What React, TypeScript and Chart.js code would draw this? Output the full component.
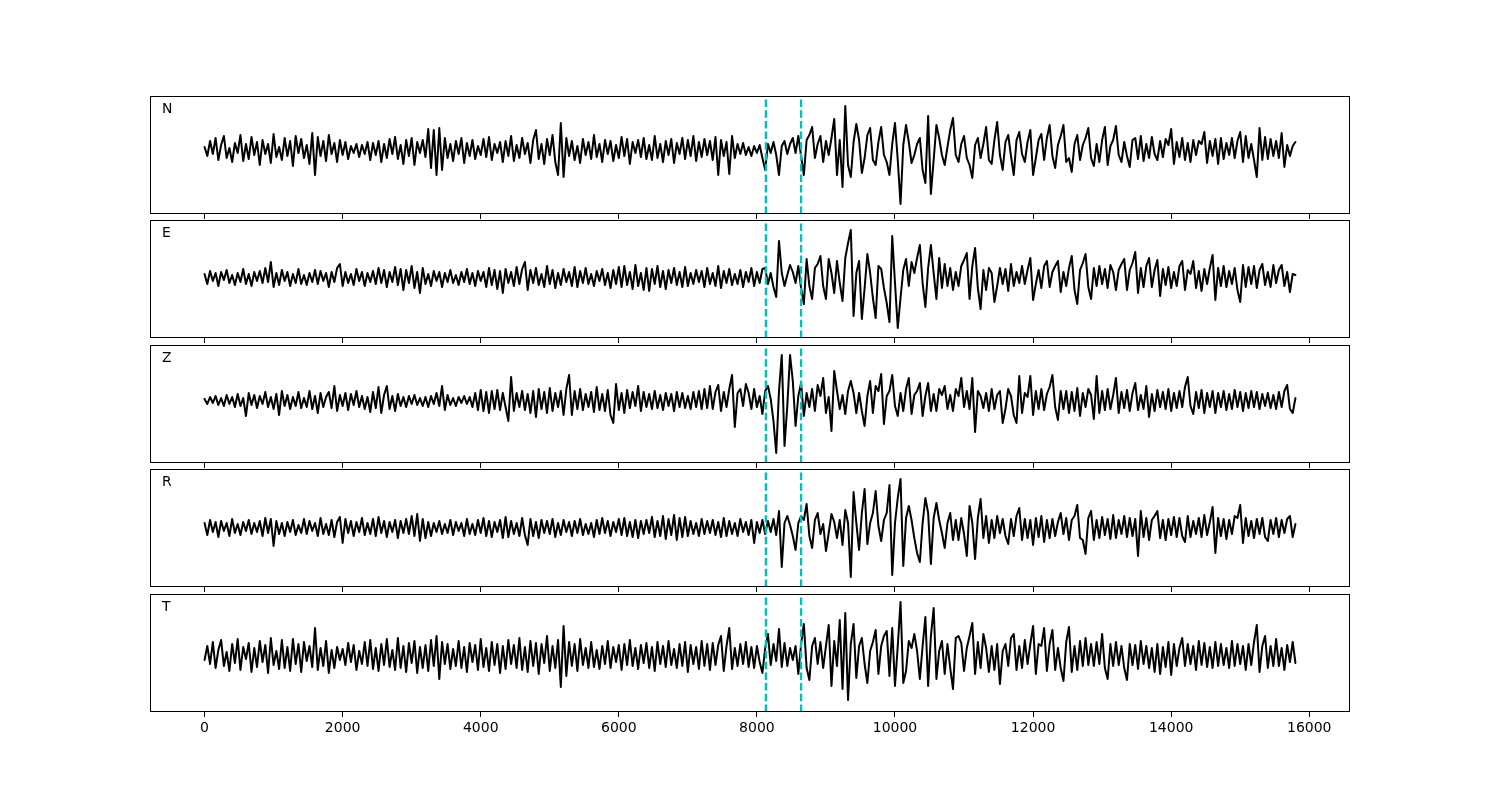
import React, { useEffect, useRef } from "react";
import { Chart, registerables } from "chart.js";

Chart.register(...registerables);

// ---------------- data ----------------
const SAMPLE_STEP = 40; // x units between consecutive samples
const CHANNELS = ["N", "E", "Z", "R", "T"];
const X_TICKS = [0, 2000, 4000, 6000, 8000, 10000, 12000, 14000, 16000];
const X_MIN = -790;
const X_MAX = 16590;
const PICK_TIMES = [8130, 8640];
const Y_MIN = [-64, -60, -62, -59, -56];
const Y_MAX = [54, 58, 56, 59, 62];

const N_TRACE = [
  3, -6, 9, -4, 12, -10, 5, 14, -8, 2,
  -12, 7, -3, 15, -11, 6, -9, 13, -5, 8,
  -15, 10, -4, 6, -13, 16, -7, 3, -10, 12,
  -6, 9, -16, 14, -3, 11, -8, 5, -14, 17,
  -25, 13, -6, 9, -11, 15, -4, 7, -12, 10,
  -5, 8, -9, 4, -3, 6, -7, 5, -4, 8,
  -10, 7, -5, 9, -12, 6, -8, 11, -4, 13,
  -9, 5, -14, 10, -6, 12, -15, 8, -3, 10,
  -7, 21, -18, 20, -25, 22, -20, 12, -8, 6,
  -11, 9, -4, 12, -13, 7, -6, 10, -9, 4,
  -5, 11, -7, 13, -10, 6, -3, 8, -12, 9,
  -6, 14, -11, 5, -8, 12, -4, 7, -13, 10,
  20, -9, 6, -14, 11, -5, 15, -12, -25, 27,
  -27, 12, -6, 9, -10, 4, -13, 11, -5, 8,
  -9, 15, -7, 6, -12, 10, -4, 9, -11, 5,
  -8, 13, -6, 11, -14, 8, -3, 10, -7, 12,
  -9, 5, -10, 14, -8, 6, -12, 9, -5, 11,
  -13, 7, -4, 12, -9, 10, -6, 14, -11, 8,
  -7, 11, -5, 9, -10, 13, -25, 10, -6, 8,
  -24, 14, -8, 6, -4, 7, -5, 3, -6, 4,
  -3, 5, -8, -20, 6, -3, 8, -5, -25, 4,
  9, -4, 6, 12, -3, 14, -6, -25, 10, 15,
  23, -8, 6, 14, -12, 9, -5, 12, 31, -25,
  10, -37, 44, -15, -27, 8, 26, 10, -23, -8,
  15, 22, -10, -15, 8, 23, -5, -12, -25, 6,
  27, -10, -54, 5, 25, 8, -13, -5, 6, 12,
  -20, -33, 34, -44, -10, 25, 12, -5, -15, 3,
  20, 32, -5, -12, 6, 14, -8, -15, -28, 5,
  12, -8, 6, 23, -10, -14, 10, 28, -5, -20,
  8, 15, -6, -25, 10, 18, -4, -12, 8, 20,
  -25, -8, 10, 16, -10, 12, 25, -6, -18, 5,
  14, 25, -12, -8, -22, 6, 15, -10, 5, 12,
  22, -8, -16, 6, -12, 10, 23, -15, 4, 10,
  24, -5, -12, 8, -6, -17, 10, 12, -9, 14,
  -11, 6, -8, 13, -4, -10, 9, -7, 11, 5,
  21, -14, 8, -7, 12, -10, 7, -12, 10, -5,
  9, 6, 18, -13, 9, -6, 11, -14, 12, -9,
  7, -5, 12, -8, 9, 18, -12, 14, -8, 6,
  -10, -27, 22, -10, 13, -9, 11, -6, 9, -8,
  17, -17, 5, -6, 4, 8,
];

const E_TRACE = [
  4, -6, 7, -3, 5, -8, 6, -2, 8, -5,
  3, -7, 5, -4, 9, -6, 4, -8, 6, -3,
  7, -5, 10, -4, 16, -9, 5, -7, 8, -3,
  6, -8, 4, -5, 9, -6, 3, -7, 5, -4,
  8, -6, 7, -3, 5, -9, 6, -4, 10, 14,
  -8, 6, -5, 4, -7, 9, -3, 6, -8, 5,
  -4, 7, -6, 10, -5, 8, -9, 6, -4, 11,
  -7, 9, -12, 8, -5, 12, -10, 6, -15, 10,
  -6, 4, -8, 7, -3, 6, -9, 5, -4, 8,
  -5, 3, -7, 6, -4, 9, -6, 5, -8, 7,
  -3, 6, -9, 10, -7, 8, -11, 7, -15, 9,
  -5, 6, -8, 11, -6, 9, 16, -12, 8, -5,
  10, -7, 4, -9, 12, -6, 8, -10, 5, -7,
  9, -4, 6, -8, 11, -9, 7, -5, 10, -6,
  4, -8, 7, -3, 9, -7, 5, -10, 8, -6,
  11, -9, 12, -7, 6, -11, 13, -8, 5, -12,
  10, -13, 9, -6, 12, -9, 7, -11, 8, -5,
  10, -7, 6, -9, 11, -8, 5, -6, 8, -4,
  7, -9, 10, -6, 5, -8, 12, -10, 7, -5,
  9, -7, 4, -6, 8, -9, 6, -4, 10, -8,
  6, -5, 9, 10, -6, 5, -9, -19, 37, 5,
  -8, 3, 13, 6, -5, 12, -10, -26, 19, -8,
  -21, 10, 14, 22, -8, -21, 19, 5, -15, 17,
  -5, -23, 20, 35, 48, -38, 5, 17, -41, -10,
  24, 5, -20, -40, 12, 9, -10, -25, -44, 42,
  -5, -50, -20, 8, 19, -8, 16, 5, 20, 33,
  -5, -29, 10, 33, 5, -21, 20, -10, 14, -8,
  10, -12, 6, -8, 12, 18, 25, -21, 12, 30,
  -10, -31, 8, -12, 10, 5, -24, -8, 10, -6,
  9, -13, 14, -8, 6, -5, 12, -6, 8, 20,
  -22, -6, 8, -10, 12, 17, -9, 6, 12, 17,
  -14, 6, -8, 10, 22, -12, -26, 8, 15, 24,
  -9, -21, 10, -8, 12, -6, 9, -10, 13, 6,
  -12, 8, 14, 19, -12, 8, 15, 26, -15, 10,
  -9, 12, 20, -9, 8, 18, -18, 9, -7, 11,
  -10, 6, -8, 12, 17, -12, 8, 4, 17, -10,
  7, -13, 9, -6, 10, 23, -22, 10, -8, 12,
  -9, 7, -6, 10, -12, -24, 13, -9, 11, -6,
  12, -10, 8, 14, -7, 6, -9, 13, -5, 8,
  13, -8, 6, -14, 4, 3,
];

const Z_TRACE = [
  2, -3, 4, -2, 5, -4, 3, -5, 6, -3,
  4, -6, 7, -5, 3, -15, 8, -4, 6, -7,
  5, -3, 9, -6, 4, -8, 7, -14, 10, -5,
  6, -8, 4, -5, 9, -7, 3, -6, 10, -8,
  5, -12, 8, -6, 4, 9, -7, 15, -10, 6,
  -5, 8, -9, 7, -4, 10, -6, 5, -8, 4,
  -11, 9, -7, 14, -12, 6, 15, -8, 5, -10,
  7, -5, 4, -6, 5, -3, 6, -4, 3, -5,
  4, -6, 5, -3, 8, -5, 15, -9, 6, -4,
  3, -5, 4, -2, 5, -3, 4, -6, 8, -9,
  11, -10, 9, -12, 10, -8, 11, -9, 8, -6,
  -20, 24, -10, 8, -6, 10, -9, 7, -12, 10,
  -16, 12, -8, 9, -12, 13, -10, 8, -6, 10,
  -14, 12, 26, -14, 10, -8, 12, -9, 7, -6,
  9, -11, 14, -9, 7, -10, 11, -14, -22, 17,
  -9, 8, -12, 11, -7, 9, -5, 15, -10, 9,
  -6, 7, -8, 10, -7, 6, -9, 8, -5, 7,
  -10, 9, -6, 8, -7, 5, -8, 9, -6, 10,
  -8, 12, -7, 15, -8, 9, 16, -10, 9, -6,
  12, 26, -26, 8, 12, -5, 17, 8, -8, 12,
  -6, 5, -13, 10, 15, 2, -20, -52, 10, 46,
  -45, -5, 46, 20, -25, 5, 18, -15, 8, -6,
  12, -10, 16, 5, 23, -12, 4, -30, 30, 10,
  -8, 6, -13, 10, 20, 8, -12, 8, -10, -25,
  5, 20, -12, 15, 10, 27, -23, 5, 10, 26,
  -5, -15, 8, -10, 12, 23, -13, 6, 10, 18,
  -15, 5, 18, -10, 7, -10, 12, 6, 15, -8,
  6, -10, 12, 5, 23, -6, 10, -8, 23, -31,
  10, 5, -7, 8, -10, 12, -8, 6, 10, -22,
  -8, 12, 5, -14, -22, 25, -12, 8, 4, 25,
  -14, 10, -8, 12, -9, 7, 14, 26, -6, -19,
  10, -8, 10, -12, 9, -10, 13, -15, 8, -6,
  12, 6, -18, 25, -12, 10, -9, 12, -8, 6,
  23, -12, 9, -7, 11, -10, 8, 18, -9, 6,
  -8, 15, -16, 7, -10, 11, -6, 9, -8, 12,
  -10, 8, -7, 10, -6, 14, 24, -5, -13, 9,
  -7, 11, -12, 8, -6, 10, -12, 8, -6, 10,
  -9, 7, -8, 11, -6, 9, -10, 8, -7, 10,
  -6, 9, -8, 7, -5, 8, -7, 6, -8, 9,
  -6, 10, 16, -8, -12, 3,
];

const R_TRACE = [
  5, -7, 8, -4, 6, -9, 7, -3, 5, -8,
  9, -5, 4, -7, 6, -3, 8, -6, 5, -4,
  7, -8, 10, -5, 9, -18, 7, -6, 5, -8,
  6, -4, 8, -7, 3, -5, 9, -6, 7, -3,
  5, -8, 10, -6, 4, -7, 8, -9, 6, 11,
  -15, 9, -5, 7, -8, 6, -4, 10, -7, 5,
  -6, 9, -8, 11, -5, 7, -9, 6, -4, 8,
  -10, 7, -5, 9, -6, 12, -8, 14, -13, 9,
  -10, 6, -8, 5, -4, 7, -6, 4, -5, 8,
  -7, 6, -3, 5, -8, 9, -6, 4, -7, 8,
  -5, 10, -8, 7, -9, 6, -4, 8, -10, 11,
  -9, 7, -6, 5, -8, 10, -7, -17, 9, -8,
  6, -10, 8, -5, 7, -6, 9, -9, 5, -7,
  8, -4, 6, -8, 7, -5, 9, -7, 4, -6,
  5, -9, 8, -6, 10, -5, 7, -8, 6, -4,
  9, -7, 10, -8, 6, -9, 8, -10, 7, -6,
  8, -5, 11, -9, 7, -8, 12, -11, 9, -7,
  13, -12, 10, -9, 11, -8, 7, -6, 5, -8,
  9, -6, 7, -5, 8, -7, 6, -9, 10, -8,
  7, -6, 5, -8, 9, -4, 6, -7, 8, -15,
  6, -5, 8, -6, 7, -4, 9, -7, 17, -39,
  5, 12, 3, -8, -22, 5, 12, 8, 24, -8,
  -20, 8, 15, -6, 4, -23, -5, 14, 6, -10,
  8, -17, 18, 5, -49, 36, 5, -22, 15, 39,
  -16, 5, 15, 37, 2, -13, 8, 15, 43, -47,
  5, 30, 49, -38, 10, 22, 8, -10, -25, -34,
  5, 30, 15, -36, 10, 25, 8, -5, -20, 5,
  15, -12, 8, -12, 10, -6, -28, 22, 5, -31,
  10, 29, -10, 12, -15, 8, -10, 12, -5, 9,
  -8, -16, 9, -8, 12, 20, -12, 9, -10, 8,
  -17, 10, -9, 12, -14, 8, -10, 9, -8, 6,
  15, -6, 10, -12, 8, 12, 23, -10, -12, -26,
  10, 17, -12, 8, -10, 11, -7, 9, -11, 13,
  -10, 8, -6, 12, -9, 10, -8, 9, -28, 17,
  -9, 10, -12, 8, 12, 17, -10, 8, -12, 9,
  -7, 11, -9, 10, -8, -14, 12, -9, 7, -6,
  10, -9, 13, -7, 6, 21, -25, 10, -8, 9,
  -11, 8, -6, 12, 10, 23, -15, 10, -8, 7,
  -10, 9, -6, 10, -9, -13, 8, -6, 10, -9,
  8, -5, 9, 12, -9, 4,
];

const T_TRACE = [
  -4, 10, -8, 14, -12, 6, 16, -10, 4, -15,
  12, -7, 17, -14, 9, -3, 13, -16, 8, -11,
  15, -6, 11, -17, 18, -9, 5, -13, 16, -12,
  9, -15, 17, -8, 12, -16, 14, -5, 10, -11,
  28, -14, 8, -10, 15, -17, 6, -12, 9, -4,
  7, -9, 13, -6, 11, -14, 5, -8, 14, -10,
  16, -13, 8, -15, 12, -9, 17, -11, 6, -14,
  18, -12, 10, -16, 13, -7, 15, -17, 9, -12,
  11, -15, 16, -10, 20, -23, 14, -8, 12, -13,
  7, -10, 15, -12, 9, -16, 13, -6, 11, -14,
  17, -11, 8, -15, 14, -9, 12, -17, 10, -13,
  16, -8, 11, -12, 18, -14, 9, -16, 15, -10,
  13, -18, 12, -7, 20, -15, 10, -12, 16, -31,
  30, -20, 14, -10, 12, -15, 17, -9, 8, -12,
  14, -11, 6, -13, 10, -8, 15, -12, 9, -6,
  11, -14, 12, -9, 16, -10, 8, -13, 11, -7,
  13, -12, 9, -15, 14, -8, 10, -11, 15, -9,
  7, -12, 12, -10, 14, -16, 11, -8, 9, -13,
  15, -10, 12, -14, 13, -9, 11, 20, -15, 10,
  28, -13, 8, -10, 12, -8, 14, -11, 9, -12,
  10, -6, -17, 8, 22, -9, 12, -5, 27, -11,
  13, -10, 8, -4, 10, -18, 12, 32, -12, -24,
  10, 18, -8, 14, -12, 10, 31, -30, 15, -10,
  36, -33, 43, -44, 12, 32, -22, 10, 18, -8,
  -27, 5, 14, 26, -18, 10, 20, 25, -20, 28,
  -30, 10, 54, -27, -15, 15, 8, 22, 5, -23,
  10, 39, -30, 20, 48, -23, 5, 15, -18, 12,
  -12, -33, 18, 20, 13, -15, 8, 20, 33, -18,
  14, -12, 22, 8, -16, 10, -14, 12, -28, 5,
  12, -10, 18, 22, -14, 10, -12, 16, -8, 12,
  30, -18, 12, 10, 28, -15, 12, 26, -14, 8,
  -12, -25, 14, 29, -16, 10, -14, 15, -10, 18,
  -9, 12, -10, 14, -8, 22, -12, -23, 12, -10,
  14, -9, 10, -12, -24, 12, -9, 11, -13, 15,
  -8, 10, -12, 8, -16, 12, -18, 9, -11, 14,
  -19, 12, -10, 8, 18, -10, 12, -8, 10, -14,
  15, -9, 13, -11, 9, -12, 14, -10, 12, -9,
  8, -12, 15, -10, 12, -8, 10, -14, 12, -9,
  14, 31, -16, 10, 20, -12, 10, -10, 17, -10,
  8, -14, 11, -6, 14, -7,
];

const TRACES = [N_TRACE, E_TRACE, Z_TRACE, R_TRACE, T_TRACE];

// ---------------- layout ----------------
const PANEL_TOPS = [96, 220, 345, 469, 594];
const PANEL_H = 118;
const PAD = 2;
const AXIS_H = 30;
const FONT = '"DejaVu Sans", "Liberation Sans", sans-serif';

function Panel({ idx }: { idx: number }) {
  const ref = useRef<HTMLCanvasElement | null>(null);
  useEffect(() => {
    const canvas = ref.current;
    if (!canvas) return;
    const showLabels = idx === TRACES.length - 1;
    const yMin = Y_MIN[idx];
    const yMax = Y_MAX[idx];
    const trace = TRACES[idx].map((v, i) => ({ x: i * SAMPLE_STEP, y: v }));
    const pickSets = PICK_TIMES.map((t) => ({
      data: [
        { x: t, y: yMin },
        { x: t, y: yMax },
      ],
      borderColor: "#00bfbf",
      borderWidth: 2.3,
      borderDash: [7.5, 3.2],
      pointRadius: 0,
      order: 0,
    }));
    const framePlugin = {
      id: "frameAndLabel",
      afterDraw(chart: any) {
        const { ctx, chartArea } = chart;
        ctx.save();
        ctx.strokeStyle = "#000";
        ctx.lineWidth = 1;
        ctx.strokeRect(
          Math.round(chartArea.left) + 0.5,
          Math.round(chartArea.top) + 0.5,
          Math.round(chartArea.right - chartArea.left) - 1,
          Math.round(chartArea.bottom - chartArea.top) - 1
        );
        ctx.fillStyle = "#000";
        ctx.font = `13.9px ${FONT}`;
        ctx.textBaseline = "alphabetic";
        ctx.textAlign = "left";
        ctx.fillText(CHANNELS[idx], chartArea.left + 12, chartArea.top + 17);
        ctx.restore();
      },
    };
    const chart = new Chart(canvas, {
      type: "line",
      data: {
        datasets: [
          {
            data: trace,
            borderColor: "#000",
            borderWidth: 2,
            borderJoinStyle: "round",
            borderCapStyle: "round",
            pointRadius: 0,
            tension: 0,
            order: 1,
          },
          ...pickSets,
        ] as any,
      },
      options: {
        animation: false,
        responsive: false,
        devicePixelRatio: 1,
        layout: { padding: { left: PAD, right: PAD, top: PAD, bottom: 0 } },
        plugins: {
          legend: { display: false },
          tooltip: { enabled: false },
        },
        elements: { point: { radius: 0 }, line: { tension: 0 } },
        scales: {
          x: {
            type: "linear",
            position: "bottom",
            min: X_MIN,
            max: X_MAX,
            afterBuildTicks: (s: any) => {
              s.ticks = X_TICKS.map((v) => ({ value: v }));
            },
            afterFit: (s: any) => {
              s.height = AXIS_H;
            },
            grid: {
              drawOnChartArea: false,
              drawTicks: true,
              tickLength: 5,
              tickColor: "#000",
              tickWidth: 1,
            },
            border: { display: false },
            ticks: {
              color: showLabels ? "#000" : "rgba(0,0,0,0)",
              font: { size: 14, family: FONT },
              padding: 3,
              maxRotation: 0,
              autoSkip: false,
              callback: (v: any) => String(v),
            },
          },
          y: { display: false, min: yMin, max: yMax },
        },
      } as any,
      plugins: [framePlugin],
    });
    return () => chart.destroy();
  }, [idx]);
  return (
    <canvas
      ref={ref}
      width={1200 + 2 * PAD}
      height={PAD + PANEL_H + AXIS_H}
      style={{
        position: "absolute",
        left: 150 - PAD,
        top: PANEL_TOPS[idx] - PAD,
        width: 1200 + 2 * PAD,
        height: PAD + PANEL_H + AXIS_H,
      }}
    />
  );
}

export default function App() {
  return (
    <div
      style={{
        position: "fixed",
        left: 0,
        top: 0,
        width: 1500,
        height: 800,
        background: "#fff",
      }}
    >
      {TRACES.map((_, i) => (
        <Panel key={i} idx={i} />
      ))}
    </div>
  );
}
